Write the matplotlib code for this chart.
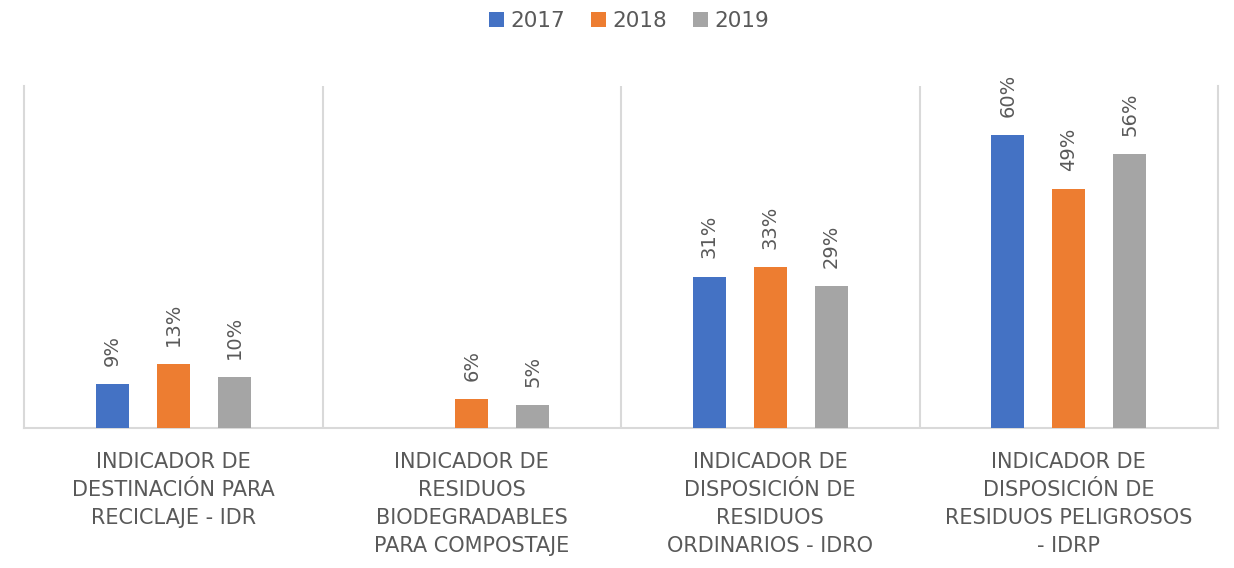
import numpy as np
from matplotlib import pyplot as plt

categorias = [
    "INDICADOR DE\nDESTINACIÓN PARA\nRECICLAJE - IDR",
    "INDICADOR DE\nRESIDUOS\nBIODEGRADABLES\nPARA COMPOSTAJE",
    "INDICADOR DE\nDISPOSICIÓN DE\nRESIDUOS\nORDINARIOS - IDRO",
    "INDICADOR DE\nDISPOSICIÓN DE\nRESIDUOS PELIGROSOS\n- IDRP",
]
anos = ["2017", "2018", "2019"]
v2017 = [0.09, np.nan, 0.31, 0.60]
v2018 = [0.13, 0.06, 0.33, 0.49]
v2019 = [0.104, 0.047, 0.29, 0.56]
cores = ["#4472C4", "#ED7D31", "#A5A5A5"]
cinza = "#595959"
linha = "#D9D9D9"

fig = plt.figure(figsize=(12.34, 5.68), dpi=100)
ax = fig.add_axes([24 / 1234, 1 - 428 / 568, (1218 - 24) / 1234, (428 - 86) / 568])

x = np.arange(len(categorias))
largura = 0.11
passo = 0.204
for i, (vals, ano) in enumerate(zip([v2017, v2018, v2019], anos)):
    barras = ax.bar(x + (i - 1) * passo, vals, width=largura, color=cores[i], label=ano, zorder=3)
    rotulos = ["" if np.isnan(v) else f"{v:.0%}" for v in vals]
    ax.bar_label(barras, labels=rotulos, rotation=90, padding=13, color=cinza, fontsize=14)

ax.set_xlim(-0.5, len(categorias) - 0.5)
ax.set_ylim(0, 0.7)
ax.set_yticks([])
ax.set_xticks(x)
ax.set_xticklabels(categorias, color=cinza, fontsize=15, linespacing=1.5)
ax.tick_params(axis="x", length=0, pad=17)
ax.set_xticks(np.arange(0.5, len(categorias) - 0.5), minor=True)
ax.tick_params(axis="x", which="minor", length=0)
ax.grid(axis="x", which="minor", color=linha, linewidth=1.5, zorder=0)

ax.spines["top"].set_visible(False)
for lado in ["left", "right", "bottom"]:
    ax.spines[lado].set_color(linha)
    ax.spines[lado].set_linewidth(1.5)

fig.legend(loc="upper center", bbox_to_anchor=(0.51, 1.015), ncol=3, frameon=False,
           fontsize=15.5, labelcolor=cinza, handlelength=0.7, handleheight=0.7,
           handletextpad=0.3, columnspacing=1.2)

fig.savefig("out.png", dpi=100)
